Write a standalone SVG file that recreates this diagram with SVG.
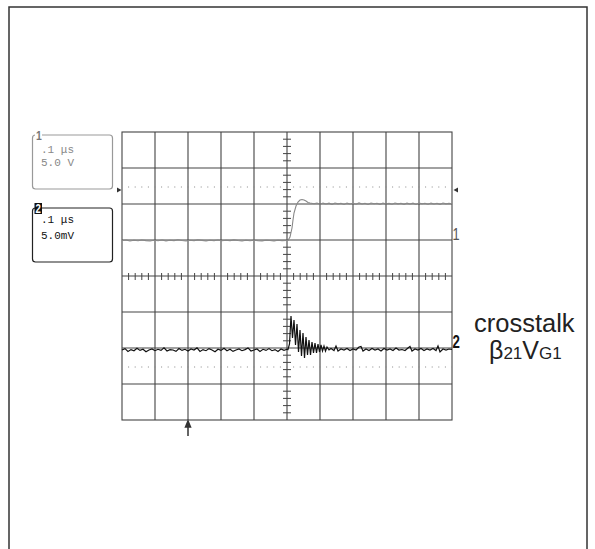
<svg xmlns="http://www.w3.org/2000/svg" width="595" height="549" viewBox="0 0 595 549">
<style>
.grid{stroke:#444;stroke-width:1.1;fill:none}
.tick{stroke:#444;stroke-width:1}
.dot{stroke:#888;stroke-width:1;stroke-dasharray:1 5.6}
.mono{font-family:"Liberation Mono","DejaVu Sans Mono",monospace;font-size:11px}
.sans{font-family:"Liberation Sans",Arial,sans-serif}
</style>
<rect width="595" height="549" fill="#fff"/>
<rect x="9" y="7" width="578" height="560" fill="none" stroke="#333" stroke-width="1.5"/>

<g id="screen">
<rect class="grid" x="122" y="132" width="330" height="288"/>
<path class="grid" d="M155,132V420M188,132V420M221,132V420M254,132V420M287,132V420M320,132V420M353,132V420M386,132V420M419,132V420M122,168H452M122,204H452M122,240H452M122,276H452M122,312H452M122,348H452M122,384H452"/>
<path class="tick" d="M283,139.2H291M283,146.4H291M283,153.6H291M283,160.8H291M283,175.2H291M283,182.4H291M283,189.6H291M283,196.8H291M283,211.2H291M283,218.4H291M283,225.6H291M283,232.8H291M283,247.2H291M283,254.4H291M283,261.6H291M283,268.8H291M283,283.2H291M283,290.4H291M283,297.6H291M283,304.8H291M283,319.2H291M283,326.4H291M283,333.6H291M283,340.8H291M283,355.2H291M283,362.4H291M283,369.6H291M283,376.8H291M283,391.2H291M283,398.4H291M283,405.6H291M283,412.8H291"/>
<path class="tick" d="M128.6,273V280M135.2,273V280M141.8,273V280M148.4,273V280M161.6,273V280M168.2,273V280M174.8,273V280M181.4,273V280M194.6,273V280M201.2,273V280M207.8,273V280M214.4,273V280M227.6,273V280M234.2,273V280M240.8,273V280M247.4,273V280M260.6,273V280M267.2,273V280M273.8,273V280M280.4,273V280M293.6,273V280M300.2,273V280M306.8,273V280M313.4,273V280M326.6,273V280M333.2,273V280M339.8,273V280M346.4,273V280M359.6,273V280M366.2,273V280M372.8,273V280M379.4,273V280M392.6,273V280M399.2,273V280M405.8,273V280M412.4,273V280M425.6,273V280M432.2,273V280M438.8,273V280M445.4,273V280"/>
<line class="dot" x1="128.1" y1="187" x2="452" y2="187"/>
<line class="dot" x1="128.1" y1="367" x2="452" y2="367"/>
<path d="M117,187.5L121.5,190L117,192.5Z" fill="#333"/>
<path d="M458,187.5L453.5,190L458,192.5Z" fill="#333"/>
<path d="M188,436V424M185.5,427L188,421L190.5,427Z" stroke="#333" stroke-width="1.5" fill="#333"/>
</g>

<g id="trace1">
<polyline fill="none" stroke="#888" stroke-width="1.1" points="122,240.5 126,240 130,241 134,240.3 138,240.8 142,240 146,240.6 150,241 154,240.2 158,240.7 162,240 166,240.9 170,240.3 174,240.6 178,239.8 182,240.5 186,241 190,240.2 194,240.6 198,239.9 202,240.4 206,240.9 210,240.2 214,240.6 218,240 222,240.8 226,240.3 230,240.6 234,239.9 238,240.5 242,241 246,240.3 250,240.7 254,240.1 258,240.6 262,240.9 266,240.2 270,240.5 274,240.9 278,240.3 282,240.6 286,240.4 288,240.5 290,237 292,228 293,220 294,213 296,206 298,202 300,200 302,199.5 304,200 306,201 308,202.5 310,203 314,203.8 317,203 320,204.2 323,203.1 326,204 329,203.2 332,204.3 335,203 338,203.9 341,203.3 344,204.4 347,203.1 350,204 353,203.4 356,204.2 359,202.9 362,204 365,203.3 368,204.4 371,203 374,203.8 377,203.2 380,204.3 383,203.1 386,204 389,203.4 392,204.2 395,203 398,203.9 401,203.3 404,204.3 407,203.1 410,204 413,203.2 416,204.4 419,203 422,203.8 425,203.3 428,204.2 431,203.1 434,204 437,203.3 440,204.3 443,203 446,203.9 449,203.4 452,203.8"/>
<text class="sans" x="0" y="0" font-size="17" fill="#555" transform="translate(452.5,240) scale(0.75,1)">1</text>
</g>

<g id="trace2">
<polyline fill="none" stroke="#111" stroke-width="1.2" points="122,350 125,348.6 128,351.4 131,349.6 134,350.7 137,348.3 140,350.4 143,349.3 146,351.8 149,350 152,349 155,350.7 158,349.3 161,350.4 164,347.9 167,351 170,349.6 173,350 176,351.4 179,348.6 182,350.4 185,349.3 188,351 191,349 194,350 197,347.9 200,351.4 203,349.6 206,350.7 209,348.6 212,350 215,351.8 218,349.3 221,350.4 224,348.3 227,350.7 230,349.3 233,351.4 236,350 239,349 242,350.7 245,349.6 248,347.9 251,351 254,350 257,349 260,351.4 263,349.3 266,350.4 269,348.6 272,350.7 275,349.6 278,351.4 281,349 284,350.4 287,349.3 288,349.5 289.5,344 291,316 292.5,338 294,320 295.5,345 297,324 298.5,352 300,330 301.5,356 303,333 304.5,358 306,337 307.5,355 309,340 310.5,355 312,342 313.5,353 315,343 316.5,353 318,344 319.5,352 321,345 322.5,351 324,346 325.5,351 327,347 329,350 331,348.5 334,350.5 336,346 338,351 341,349 344,350 347,348.5 350,350.5 353,349 356,350 359,347 361,346.5 363,351 366,349 369,350.5 372,348.5 375,350 378,349 381,351 384,348.5 387,350 390,349 393,350.5 396,348 399,350 402,349.5 405,350.5 408,348 410,346.5 412,351 415,349 418,350 421,348.5 424,350.5 427,349 430,350 433,348.5 436,350.5 438,346 440,352 443,349 446,350 449,349 452,349.5"/>
<text class="sans" x="0" y="0" font-size="19" font-weight="bold" fill="#111" transform="translate(452.5,348) scale(0.7,1)">2</text>
</g>

<g id="box1">
<rect x="32.5" y="135" width="80" height="54" rx="3" fill="none" stroke="#999" stroke-width="1.2"/>
<rect x="35" y="129" width="7" height="10" fill="#fff"/>
<text class="sans" x="0" y="0" font-size="13" font-weight="bold" fill="#777" transform="translate(36,140) scale(0.8,1)">1</text>
<text class="mono" x="41" y="153" fill="#888">.1 μs</text>
<text class="mono" x="41" y="166" fill="#888">5.0 V</text>
</g>

<g id="box2">
<rect x="32.5" y="208" width="80" height="54" rx="3" fill="none" stroke="#222" stroke-width="1.2"/>
<rect x="34.5" y="203" width="7.5" height="11" fill="#111"/>
<text class="sans" x="0" y="0" font-size="12" font-weight="bold" fill="#fff" transform="translate(35.5,212.5) scale(0.8,1)">2</text>
<text class="mono" x="41" y="223" fill="#111">.1 μs</text>
<text class="mono" x="41" y="239" fill="#111">5.0mV</text>
</g>

<g id="label" class="sans" fill="#222">
<text x="474" y="332" font-size="25.5">crosstalk</text>
<text x="489" y="359" font-size="25">β<tspan font-size="17">21</tspan>V<tspan font-size="17">G1</tspan></text>
</g>
</svg>
